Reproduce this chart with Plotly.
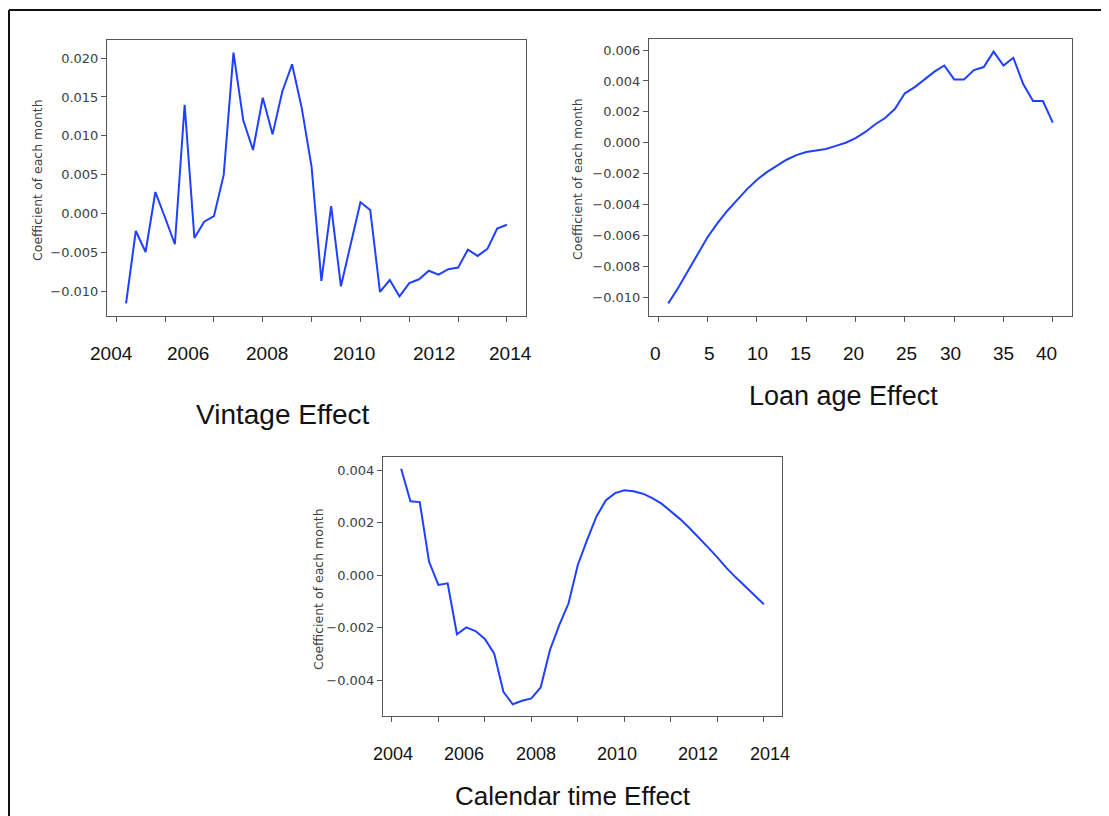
import plotly.graph_objects as go

# The page body has an 8px margin, so the figure is sized/offset to compensate.
OFF = 8
W, H = 1109 - OFF, 816 - OFF

# ---------------- data ----------------
quarter_index = list(range(1, 41))

vintage_effect = [
    -0.0115, -0.0022, -0.0049, 0.0028, -0.0005, -0.0039, 0.0140, -0.0031, -0.0010, -0.0003,
    0.0050, 0.0207, 0.0120, 0.0082, 0.0149, 0.0102, 0.0157, 0.0192, 0.0135, 0.0060,
    -0.0086, 0.0010, -0.0093, -0.0040, 0.0015, 0.0005, -0.0100, -0.0085, -0.0106, -0.0089,
    -0.0084, -0.0073, -0.0078, -0.0071, -0.0069, -0.0046, -0.0054, -0.0045, -0.0019, -0.0014,
]

loan_age_effect = [
    -0.0104, -0.0094, -0.0083, -0.0072, -0.0061, -0.0052, -0.0044, -0.0037, -0.0030, -0.0024,
    -0.0019, -0.0015, -0.0011, -0.0008, -0.0006, -0.0005, -0.0004, -0.0002, 0.0000, 0.0003,
    0.0007, 0.0012, 0.0016, 0.0022, 0.0032, 0.0036, 0.0041, 0.0046, 0.0050, 0.0041,
    0.0041, 0.0047, 0.0049, 0.0059, 0.0050, 0.0055, 0.0038, 0.0027, 0.0027, 0.0013,
]

calendar_effect = [
    0.00406, 0.00282, 0.00279, 0.00052, -0.00037, -0.00031, -0.00225, -0.00199, -0.00213, -0.00243,
    -0.00298, -0.00445, -0.00492, -0.00479, -0.00470, -0.00428, -0.00285, -0.00190, -0.00107, 0.00040,
    0.00135, 0.00224, 0.00285, 0.00313, 0.00324, 0.00320, 0.00311, 0.00294, 0.00273, 0.00243,
    0.00214, 0.00180, 0.00145, 0.00106, 0.00068, 0.00027, -0.00009, -0.00043, -0.00078, -0.00111,
]

x_tickvals = [0, 5, 10, 15, 20, 25, 30, 35, 40]

vintage_labels = ["2004", "2006", "2008", "2010", "2012", "2014"]
loan_age_labels = ["0", "5", "10", "15", "20", "25", "30", "35", "40"]
calendar_labels = ["2004", "2006", "2008", "2010", "2012", "2014"]

panel_titles = ["Vintage Effect", "Loan age Effect", "Calendar time Effect"]
y_title = "Coefficient of each month"

# ---------------- layout (pixel positions in the 1109x816 window) ----------------
frames = {  # left, right, top, bottom in px
    1: (107, 526, 40, 316),
    2: (649, 1072, 39, 316),
    3: (383, 782, 457, 716),
}
vintage_label_px = [111, 187.5, 266.7, 354.2, 434.2, 510.8]
loan_label_px = [655.3, 709, 757, 800, 853.3, 906.7, 950, 1003.3, 1046.3]
calendar_label_px = [393, 464.2, 536, 616.8, 698.2, 769.7]
label_rows = {1: 353, 2: 353, 3: 754}
title_pos = [(282.5, 414, 28), (843, 396, 27), (573, 796, 26)]
ytitle_pos = [(38, 180), (578, 179), (318, 589)]

LINE = "#2040ff"
AXC = "#555555"


def px_x(v):
    return (v - OFF) / W


def px_y(v):
    return 1 - (v - OFF) / H


def padded(vals):
    a, b = min(vals), max(vals)
    m = 0.05 * (b - a)
    return [a - m, b + m]


fig = go.Figure()

series = [vintage_effect, loan_age_effect, calendar_effect]
ytick_sets = [
    [-0.010, -0.005, 0.000, 0.005, 0.010, 0.015, 0.020],
    [-0.010, -0.008, -0.006, -0.004, -0.002, 0.000, 0.002, 0.004, 0.006],
    [-0.004, -0.002, 0.000, 0.002, 0.004],
]

for k in (1, 2, 3):
    ys = series[k - 1]
    fig.add_trace(go.Scatter(
        x=quarter_index, y=ys, mode="lines",
        line=dict(color=LINE, width=2),
        xaxis=f"x{k}" if k > 1 else "x", yaxis=f"y{k}" if k > 1 else "y",
        hoverinfo="skip",
    ))
    l, r, t, b = frames[k]
    xa = dict(
        domain=[px_x(l), px_x(r)], range=padded(quarter_index),
        tickvals=x_tickvals, showticklabels=False, ticks="outside", ticklen=5,
        tickcolor=AXC, tickwidth=1, showline=True, linecolor=AXC, linewidth=1,
        mirror=True, showgrid=False, zeroline=False,
        anchor=f"y{k}" if k > 1 else "y",
    )
    ya = dict(
        domain=[px_y(b), px_y(t)], range=padded(ys),
        tickvals=ytick_sets[k - 1], tickformat=".3f", ticks="outside", ticklen=5,
        tickcolor=AXC, tickwidth=1, showline=True, linecolor=AXC, linewidth=1,
        mirror=True, showgrid=False, zeroline=False,
        tickfont=dict(family="DejaVu Sans", size=13, color="#404040"),
        anchor=f"x{k}" if k > 1 else "x",
    )
    fig.update_layout(**{("xaxis" if k == 1 else f"xaxis{k}"): xa,
                         ("yaxis" if k == 1 else f"yaxis{k}"): ya})

annotations = []
label_font = dict(family="Liberation Sans, Arial", color="#111111")
for labels, pos, k, size in ((vintage_labels, vintage_label_px, 1, 19),
                             (loan_age_labels, loan_label_px, 2, 19),
                             (calendar_labels, calendar_label_px, 3, 18)):
    for txt, xp in zip(labels, pos):
        annotations.append(dict(
            text=txt, x=px_x(xp), y=px_y(label_rows[k]), xref="paper", yref="paper",
            xanchor="center", yanchor="middle", showarrow=False,
            font=dict(size=size, **label_font),
        ))

for txt, (xp, yp, size) in zip(panel_titles, title_pos):
    annotations.append(dict(
        text=txt, x=px_x(xp), y=px_y(yp), xref="paper", yref="paper",
        xanchor="center", yanchor="middle", showarrow=False,
        font=dict(size=size, family="Liberation Sans, Arial", color="#111111"),
    ))

for xp, yp in ytitle_pos:
    annotations.append(dict(
        text=y_title, x=px_x(xp), y=px_y(yp), xref="paper", yref="paper",
        xanchor="center", yanchor="middle", showarrow=False, textangle=-90,
        font=dict(size=12.5, family="DejaVu Sans", color="#404040"),
    ))

shapes = [
    dict(type="line", xref="paper", yref="paper", x0=px_x(9), x1=1, y0=px_y(10), y1=px_y(10),
         line=dict(color="#111111", width=2)),
    dict(type="line", xref="paper", yref="paper", x0=px_x(9), x1=px_x(9), y0=px_y(10), y1=0,
         line=dict(color="#111111", width=2)),
]

fig.update_layout(
    width=W, height=H, margin=dict(l=0, r=0, t=0, b=0),
    paper_bgcolor="white", plot_bgcolor="white", showlegend=False,
    annotations=annotations, shapes=shapes,
)

fig.write_html("out.html")
